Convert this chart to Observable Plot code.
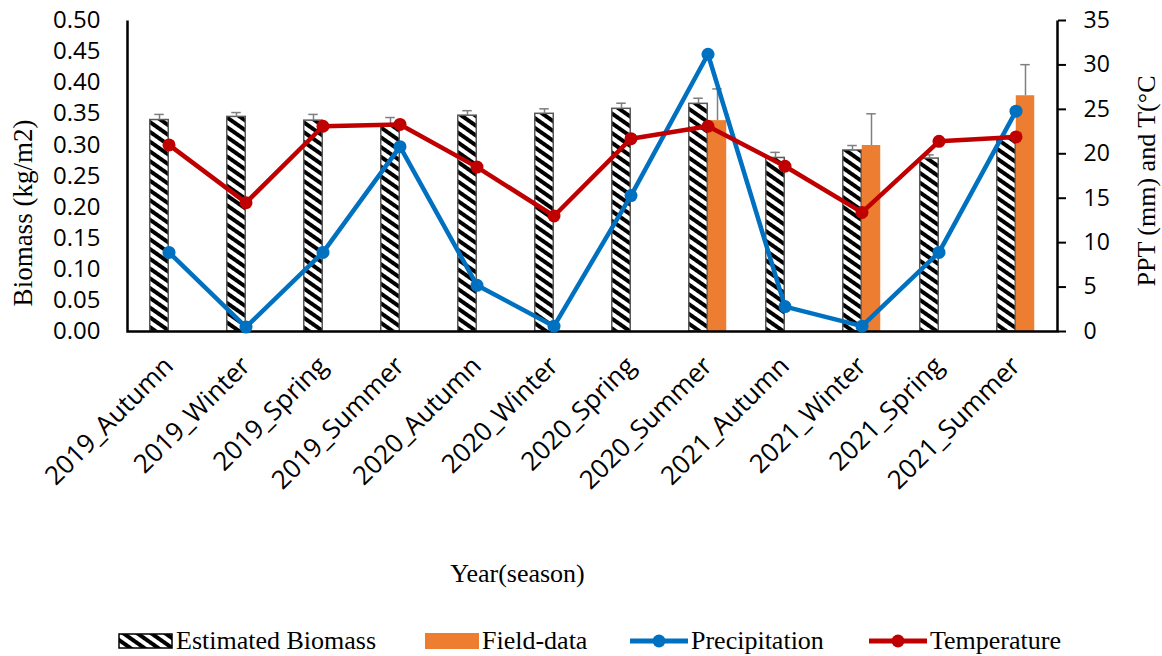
<!DOCTYPE html>
<html><head><meta charset="utf-8">
<script src="https://cdn.jsdelivr.net/npm/d3@7"></script>
<script src="https://cdn.jsdelivr.net/npm/@observablehq/plot@0.6"></script>
<style>
html,body{margin:0;padding:0;background:#fff;}
#wrap{position:relative;width:1162px;height:656px;overflow:hidden;background:#fff;}
#chart{position:absolute;left:0;top:0;}
.serif{font-family:"Liberation Serif",serif;color:#000;white-space:nowrap;}
#xtitle{position:absolute;left:0;width:1035px;top:559px;text-align:center;font-size:26px;}
.ytitle{position:absolute;left:0;top:0;transform:translate(-50%,-50%) rotate(-90deg);line-height:1;}
#ytitleL{left:23px;top:213px;font-size:27px;}
#ytitleR{left:1147px;top:181px;font-size:26px;}
.lg{position:absolute;top:627px;height:28px;display:flex;align-items:center;font-size:26px;}
.lg svg{margin-right:3px;}
</style></head>
<body><div id="wrap"><div id="chart"></div>
<div id="xtitle" class="serif">Year(season)</div>
<div id="ytitleL" class="serif ytitle">Biomass (kg/m2)</div>
<div id="ytitleR" class="serif ytitle">PPT (mm) and T(°C</div>
<div id="legend"></div></div>
<script>
const seasons = ["2019_Autumn","2019_Winter","2019_Spring","2019_Summer","2020_Autumn","2020_Winter","2020_Spring","2020_Summer","2021_Autumn","2021_Winter","2021_Spring","2021_Summer"];
const estimated    = [0.340,0.345,0.339,0.332,0.347,0.350,0.358,0.366,0.279,0.291,0.278,0.310];
const estimatedErr = [0.009,0.007,0.010,0.012,0.008,0.008,0.009,0.009,0.009,0.008,0.006,0.005];
const fieldData    = [null,null,null,null,null,null,null,0.339,null,0.299,null,0.379];
const fieldErr     = [null,null,null,null,null,null,null,0.051,null,0.051,null,0.050];
const precipitation = [8.9,0.5,8.9,20.8,5.2,0.6,15.3,31.2,2.8,0.6,8.9,24.8];
const temperature   = [21.0,14.5,23.1,23.3,18.5,13.0,21.7,23.1,18.6,13.4,21.4,21.9];
const leftTicks  = [0,0.05,0.10,0.15,0.20,0.25,0.30,0.35,0.40,0.45,0.50];
const rightTicks = [0,5,10,15,20,25,30,35];
const leftMax = 0.5, rightMax = 35;
const toLeft = v => v * leftMax / rightMax;

const rows = seasons.map((s,i)=>({season:s, est:estimated[i], estErr:estimatedErr[i], field:fieldData[i], fieldErr:fieldErr[i], ppt:precipitation[i], temp:temperature[i]}));
const fieldRows = rows.filter(d=>d.field!=null);

const W=1162, H=545, mL=127, mR=105, mT=20, mB=214;
const bw = (W-mL-mR)/seasons.length;
const barW = 19, capW = 10;
const sans = "'Open Sans', sans-serif";
const errColor = "#7f7f7f";
const plotW = W-mL-mR, plotH = H-mT-mB;

const chart = Plot.plot({
  width:W, height:H, marginLeft:mL, marginRight:mR, marginTop:mT, marginBottom:mB,
  style:{background:"transparent", color:"#000"},
  x:{type:"band", domain:seasons, paddingInner:0, paddingOuter:0},
  y:{domain:[0,leftMax]},
  marks:[
    Plot.barY(rows, {x:"season", y:"est", fill:"url(#hatch)", stroke:"#595959", strokeWidth:1.5, insetLeft:bw/2-barW, insetRight:bw/2}),
    Plot.barY(fieldRows, {x:"season", y:"field", fill:"#ED7D31", insetLeft:bw/2, insetRight:bw/2-barW}),
    Plot.ruleX(rows, {x:"season", y1:"est", y2:d=>d.est+d.estErr, dx:-barW/2, stroke:errColor, strokeWidth:1.5}),
    Plot.tickY(rows, {x:"season", y:d=>d.est+d.estErr, stroke:errColor, strokeWidth:1.5, insetLeft:bw/2-barW/2-capW/2, insetRight:bw/2+barW/2-capW/2}),
    Plot.ruleX(fieldRows, {x:"season", y1:"field", y2:d=>d.field+d.fieldErr, dx:barW/2, stroke:errColor, strokeWidth:1.5}),
    Plot.tickY(fieldRows, {x:"season", y:d=>d.field+d.fieldErr, stroke:errColor, strokeWidth:1.5, insetLeft:bw/2+barW/2-capW/2, insetRight:bw/2-barW/2-capW/2}),
    Plot.frame({stroke:"#000", strokeWidth:2.5, strokeDasharray:`0,${plotW},${2*plotH+plotW}`}),
    Plot.line(rows, {x:"season", y:d=>toLeft(d.ppt), stroke:"#0070C0", strokeWidth:4.5}),
    Plot.dot(rows, {x:"season", y:d=>toLeft(d.ppt), r:6.5, fill:"#0070C0"}),
    Plot.line(rows, {x:"season", y:d=>toLeft(d.temp), stroke:"#C00000", strokeWidth:4.5}),
    Plot.dot(rows, {x:"season", y:d=>toLeft(d.temp), r:6.5, fill:"#C00000"}),
    Plot.axisY({anchor:"left", ticks:leftTicks, tickSize:0, tickPadding:27, tickFormat:d3.format(".2f"), fontSize:24, fontFamily:sans, label:null}),
    Plot.axisY({anchor:"right", ticks:rightTicks.map(toLeft), tickSize:8, tickPadding:18, strokeWidth:2, tickFormat:v=>String(Math.round(v*rightMax/leftMax)), fontSize:23, fontFamily:sans, label:null}),
    Plot.axisX({tickSize:0, tickRotate:-45, tickPadding:30, fontSize:26, fontFamily:sans, label:null})
  ]
});
document.getElementById("chart").appendChild(chart);
const svgEl = chart.tagName.toLowerCase()==="svg" ? chart : chart.querySelector("svg");
svgEl.insertAdjacentHTML("afterbegin", `<defs><pattern id="hatch" patternUnits="userSpaceOnUse" width="8" height="8" patternTransform="rotate(-55)"><rect width="8" height="8" fill="#fff"/><rect width="4" height="8" fill="#000"/></pattern></defs>`);

// legend
const legendItems = [
  {label:"Estimated Biomass", kind:"hatch", left:118},
  {label:"Field-data", kind:"orange", left:425},
  {label:"Precipitation", kind:"line", color:"#0070C0", left:630},
  {label:"Temperature", kind:"line", color:"#C00000", left:869}
];
const lg = document.getElementById("legend");
legendItems.forEach(it=>{
  const div = document.createElement("div");
  div.className="lg serif"; div.style.left = it.left+"px";
  let sw;
  if(it.kind==="hatch") sw = `<svg width="55" height="18"><defs><pattern id="hatchL" patternUnits="userSpaceOnUse" width="8" height="8" patternTransform="rotate(-55)"><rect width="8" height="8" fill="#fff"/><rect width="4" height="8" fill="#000"/></pattern></defs><rect x="1" y="2" width="53" height="14" fill="url(#hatchL)" stroke="#000" stroke-width="1.5"/></svg>`;
  else if(it.kind==="orange") sw = `<svg width="54" height="18"><rect x="0" y="1" width="54" height="16" fill="#ED7D31"/></svg>`;
  else sw = `<svg width="58" height="18"><line x1="0" y1="9" x2="58" y2="9" stroke="${it.color}" stroke-width="5"/><circle cx="29" cy="9" r="6.5" fill="${it.color}"/></svg>`;
  div.innerHTML = sw + `<span>${it.label}</span>`;
  lg.appendChild(div);
});
</script></body></html>
